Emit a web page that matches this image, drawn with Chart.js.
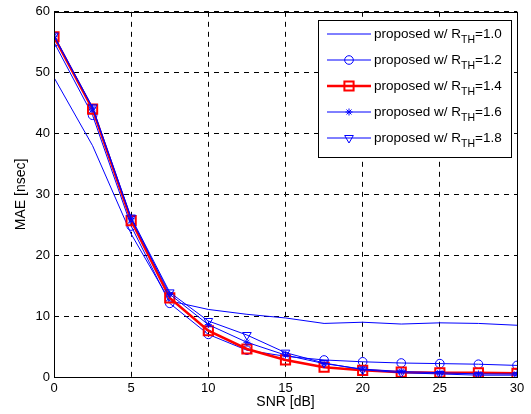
<!DOCTYPE html>
<html>
<head>
<meta charset="utf-8">
<script src="https://cdn.jsdelivr.net/npm/chart.js@4/dist/chart.umd.min.js"></script>
<style>
  body { margin: 0; background: #fff; }
</style>
</head>
<body>
<canvas id="chart" width="531" height="414"></canvas>
<script>
  // SNR points (dB)
  var snr = [0, 2.5, 5, 7.5, 10, 12.5, 15, 17.5, 20, 22.5, 25, 27.5, 30]

  // MAE [nsec] per threshold
  var r10 = [49.2, 38.0, 23.5, 12.5, 11.1, 10.3, 9.7, 8.8, 9.0, 8.7, 8.9, 8.8, 8.5]
  var r12 = [55.0, 43.0, 24.8, 12.1, 7.0, 4.4, 3.4, 2.8, 2.5, 2.3, 2.2, 2.1, 1.9]
  var r14 = [55.9, 44.0, 25.7, 13.0, 7.6, 4.6, 2.8, 1.6, 1.1, 0.8, 0.7, 0.7, 0.6]
  var r16 = [56.0, 44.2, 26.0, 13.6, 8.6, 5.7, 3.6, 2.2, 1.3, 0.9, 0.7, 0.5, 0.5]
  var r18 = [56.1, 44.3, 26.2, 13.9, 9.2, 6.9, 4.0, 2.3, 1.2, 0.7, 0.5, 0.3, 0.3]

  var thresholds = ['1.0', '1.2', '1.4', '1.6', '1.8']
  var xTicks = [0, 5, 10, 15, 20, 25, 30]
  var yTicks = [0, 10, 20, 30, 40, 50, 60]

  function pts(ys) {
    return ys.map(function (y, i) { return { x: snr[i], y: y } })
  }

  var FONT = 'Liberation Sans, Arial, Helvetica, sans-serif'

  function series(th, ys, color, width, style, radius, rot, order) {
    return {
      label: 'proposed w/ R_TH=' + th,
      th: th,
      data: pts(ys),
      borderColor: color,
      backgroundColor: 'rgba(0,0,0,0)',
      borderWidth: width,
      pointStyle: style,
      pointRadius: radius,
      pointRotation: rot,
      pointBorderColor: color,
      pointBackgroundColor: 'rgba(0,0,0,0)',
      pointBorderWidth: width > 1.5 ? 2 : 1,
      tension: 0,
      order: order
    }
  }

  // box round the plot + legend in the upper right corner
  var framePlugin = {
    id: 'frame',
    afterDraw: function (chart) {
      var ctx = chart.ctx
      var a = chart.chartArea
      ctx.save()
      ctx.strokeStyle = '#000'
      ctx.lineWidth = 1
      ctx.setLineDash([])
      ctx.strokeRect(Math.round(a.left) + 0.5, Math.round(a.top) + 0.5,
        Math.round(a.right - a.left), Math.round(a.bottom - a.top))

      var bw = 193, bh = 137
      var bx = Math.round(a.right) - 6 - bw
      var by = Math.round(a.top) + 8
      ctx.fillStyle = '#fff'
      ctx.fillRect(bx, by, bw, bh)
      ctx.strokeRect(bx + 0.5, by + 0.5, bw, bh)

      chart.data.datasets.forEach(function (ds, i) {
        var y = by + 14 + i * 26
        ctx.strokeStyle = ds.borderColor
        ctx.lineWidth = ds.borderWidth
        ctx.beginPath()
        ctx.moveTo(bx + 9, y)
        ctx.lineTo(bx + 53, y)
        ctx.stroke()
        if (ds.pointRadius > 0) {
          ctx.fillStyle = 'rgba(0,0,0,0)'
          ctx.lineWidth = ds.pointBorderWidth
          Chart.helpers.drawPoint(ctx, {
            pointStyle: ds.pointStyle,
            rotation: ds.pointRotation,
            radius: ds.pointRadius,
            borderWidth: ds.pointBorderWidth
          }, bx + 31, y)
        }
        ctx.fillStyle = '#000'
        ctx.textBaseline = 'middle'
        ctx.textAlign = 'left'
        ctx.font = '13.5px ' + FONT
        var t1 = 'proposed w/ R'
        var tx = bx + 56
        ctx.fillText(t1, tx, y)
        tx += ctx.measureText(t1).width
        ctx.font = '10.5px ' + FONT
        ctx.fillText('TH', tx, y + 6)
        tx += ctx.measureText('TH').width
        ctx.font = '13.5px ' + FONT
        ctx.fillText('=' + ds.th, tx, y)
      })
      ctx.restore()
    }
  }

  var ctx = document.getElementById('chart')

  var chart = new Chart(ctx, {
    type: 'line',
    data: {
      datasets: [
        series(thresholds[0], r10, '#0000ff', 1, 'circle', 0, 0, 5),
        series(thresholds[1], r12, '#0000ff', 1, 'circle', 4.3, 0, 4),
        series(thresholds[2], r14, '#ff0000', 2.5, 'rect', 6.5, 0, 3),
        series(thresholds[3], r16, '#0000ff', 1, 'star', 3.5, 0, 2),
        series(thresholds[4], r18, '#0000ff', 1, 'triangle', 5, 180, 1)
      ]
    },
    options: {
      responsive: false,
      animation: false,
      layout: { padding: { left: 0, right: 14, top: 11, bottom: 0 } },
      plugins: {
        legend: { display: false },
        tooltip: { enabled: false }
      },
      scales: {
        x: {
          type: 'linear',
          min: 0,
          max: 30,
          afterBuildTicks: function (s) { s.ticks = xTicks.map(function (v) { return { value: v } }) },
          afterFit: function (s) { s.height = 37 },
          ticks: { color: '#000', font: { family: FONT, size: 13 }, padding: 4, maxRotation: 0 },
          grid: { color: '#000', lineWidth: 1, drawTicks: false },
          border: { display: false, dash: [5, 5] },
          title: { display: true, text: 'SNR [dB]', color: '#000', font: { family: FONT, size: 14 }, padding: { top: 0, bottom: 3 } }
        },
        y: {
          min: 0,
          max: 60,
          afterBuildTicks: function (s) { s.ticks = yTicks.map(function (v) { return { value: v } }) },
          afterFit: function (s) { s.width = 54 },
          ticks: { color: '#000', font: { family: FONT, size: 13 }, padding: 4 },
          grid: { color: '#000', lineWidth: 1, drawTicks: false },
          border: { display: false, dash: [5, 5] },
          title: { display: true, text: 'MAE [nsec]', color: '#000', font: { family: FONT, size: 14 }, padding: { top: 13, bottom: 0 } }
        }
      }
    },
    plugins: [framePlugin]
  })
</script>
</body>
</html>
